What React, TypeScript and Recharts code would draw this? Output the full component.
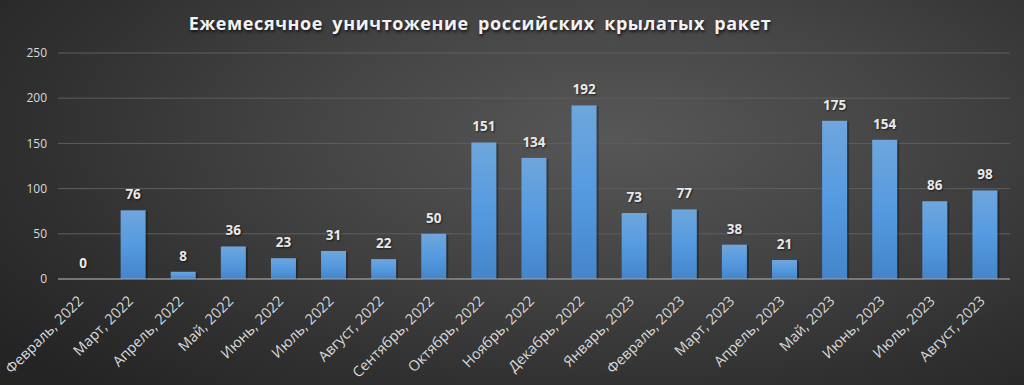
import React from 'react';
import { BarChart, Bar, XAxis, YAxis, CartesianGrid, LabelList } from 'recharts';

const months = [
  'Февраль, 2022', 'Март, 2022', 'Апрель, 2022', 'Май, 2022', 'Июнь, 2022', 'Июль, 2022',
  'Август, 2022', 'Сентябрь, 2022', 'Октябрь, 2022', 'Ноябрь, 2022', 'Декабрь, 2022',
  'Январь, 2023', 'Февраль, 2023', 'Март, 2023', 'Апрель, 2023', 'Май, 2023', 'Июнь, 2023',
  'Июль, 2023', 'Август, 2023',
];
const destroyed = [0, 76, 8, 36, 23, 31, 22, 50, 151, 134, 192, 73, 77, 38, 21, 175, 154, 86, 98];
const yTicks = [0, 50, 100, 150, 200, 250];
const title = 'Ежемесячное уничтожение российских крылатых ракет';

const data = months.map((m, i) => ({ month: m, value: destroyed[i] }));

const FONT = '"Open Sans", "Noto Sans", sans-serif';

const XTick = (props: any) => {
  const { x, y, payload } = props;
  const ax = x + 1;
  const ay = y + 15;
  return (
    <text
      x={ax}
      y={ay}
      transform={`rotate(-45, ${ax}, ${ay})`}
      textAnchor="end"
      fill="#d9d9d9"
      fontSize={14.5}
      fontFamily={FONT}
    >
      {payload.value}
    </text>
  );
};

const ValueLabel = (props: any) => {
  const { x, y, width, value } = props;
  return (
    <text
      x={Number(x) + Number(width) / 2}
      y={Number(y) - 11}
      textAnchor="middle"
      fill="#e8e8e8"
      fontSize={13.5}
      fontWeight="bold"
      fontFamily={FONT}
      style={{ textShadow: '1px 1px 2px rgba(0,0,0,0.6)' }}
    >
      {value}
    </text>
  );
};

const BarShape = (props: any) => {
  const { x, y, width, height } = props;
  if (!height || height <= 0) return null;
  return (
    <g>
      <rect x={x + 2} y={y + 1} width={width} height={height} fill="rgba(0,0,0,0.3)" />
      <rect x={x} y={y} width={width} height={height} fill="url(#barGrad)" />
    </g>
  );
};

export default function App() {
  return (
    <div
      style={{
        position: 'absolute',
        left: 0,
        top: 0,
        width: 1024,
        height: 385,
        background:
          'radial-gradient(ellipse 75% 90% at 60% 35%, #575757 0%, #444444 40%, #303030 75%, #242424 100%)',
        overflow: 'hidden',
      }}
    >
      <div
        style={{
          position: 'absolute',
          left: 0,
          width: 960,
          top: 11,
          textAlign: 'center',
          color: '#f2f2f2',
          fontFamily: FONT,
          fontWeight: 700,
          fontSize: 18,
          letterSpacing: 0.6,
          wordSpacing: 4,
          textShadow: '1px 2px 3px rgba(0,0,0,0.7)',
          lineHeight: '24px',
        }}
      >
        {title}
      </div>
      <div style={{ position: 'absolute', left: 0, top: 0 }}>
        <BarChart
          width={1024}
          height={385}
          data={data}
          margin={{ top: 53, right: 14, bottom: 6, left: 0 }}
          barCategoryGap="25%"
        >
          <defs>
            <linearGradient id="barGrad" x1="0" y1="0" x2="0" y2="1">
              <stop offset="0%" stopColor="#6fa6dc" />
              <stop offset="50%" stopColor="#559ae0" />
              <stop offset="100%" stopColor="#4585c9" />
            </linearGradient>
          </defs>
          <CartesianGrid vertical={false} stroke="#5e5e5e" strokeWidth={1} />
          <XAxis
            dataKey="month"
            interval={0}
            height={100}
            tick={<XTick />}
            tickLine={false}
            axisLine={{ stroke: '#a6a6a6', strokeWidth: 1 }}
          />
          <YAxis
            width={58}
            domain={[0, 250]}
            ticks={yTicks}
            tickSize={0}
            tickMargin={11}
            axisLine={false}
            tickLine={false}
            tick={{ fill: '#d9d9d9', fontSize: 12, fontFamily: FONT }}
          />
          <Bar dataKey="value" shape={<BarShape />} isAnimationActive={false}>
            <LabelList dataKey="value" content={<ValueLabel />} />
          </Bar>
        </BarChart>
      </div>
    </div>
  );
}
